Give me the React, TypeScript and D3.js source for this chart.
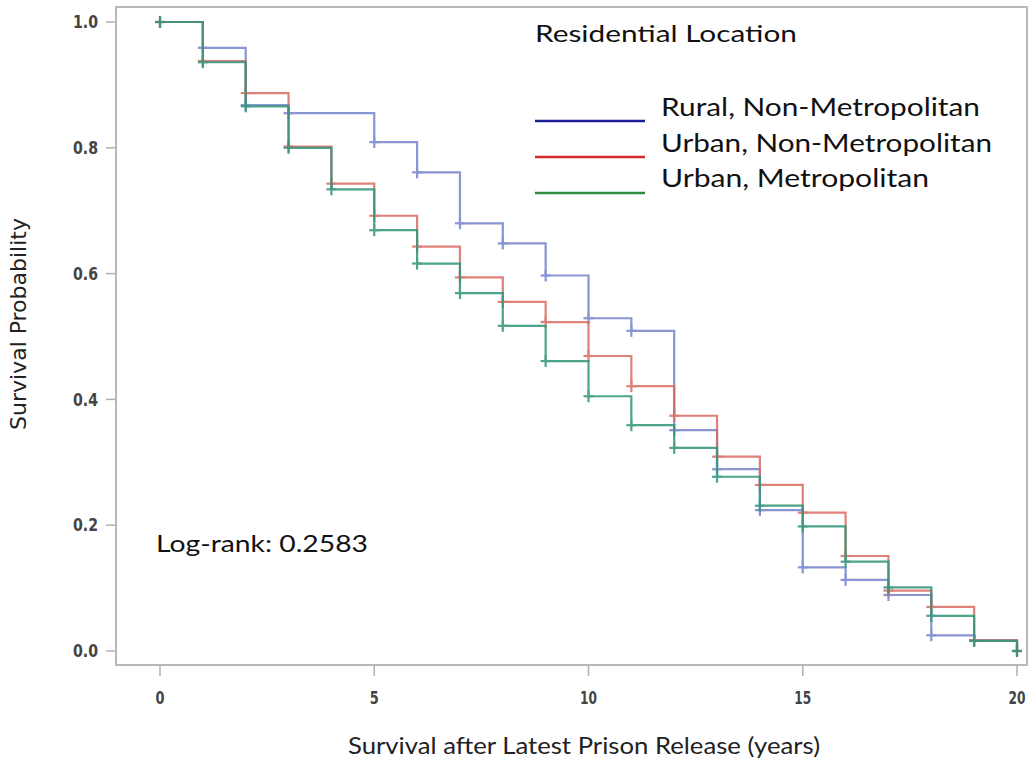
import React from "react";
import * as d3 from "d3";

const years = [0, 1, 2, 3, 4, 5, 6, 7, 8, 9, 10, 11, 12, 13, 14, 15, 16, 17, 18, 19, 20];
const ruralNonMetro = [1.0, 0.959, 0.868, 0.855, 0.855, 0.809, 0.761, 0.68, 0.648, 0.597, 0.529, 0.509, 0.351, 0.289, 0.224, 0.133, 0.113, 0.089, 0.025, 0.017, 0.0];
const urbanNonMetro = [1.0, 0.938, 0.887, 0.802, 0.743, 0.692, 0.643, 0.594, 0.555, 0.523, 0.469, 0.421, 0.374, 0.309, 0.264, 0.22, 0.151, 0.096, 0.07, 0.017, 0.0];
const urbanMetro = [1.0, 0.936, 0.866, 0.8, 0.734, 0.669, 0.616, 0.569, 0.517, 0.461, 0.405, 0.359, 0.323, 0.277, 0.231, 0.198, 0.142, 0.101, 0.056, 0.016, 0.0];
const seriesNames = ["Rural, Non-Metropolitan", "Urban, Non-Metropolitan", "Urban, Metropolitan"];
const xTicks = [0, 5, 10, 15, 20];
const yTicks = [0.0, 0.2, 0.4, 0.6, 0.8, 1.0];

const lineColors = ["#7683cc", "#d96c62", "#2f957a"];
const legendColors = ["#1c1c96", "#d22c2c", "#2e8b40"];
const legendTextLen = [319, 331, 268];

const W = 1029;
const H = 761;
const x = d3.scaleLinear().domain([0, 20]).range([160, 1017]);
const y = d3.scaleLinear().domain([0, 1]).range([651, 22]);

const frame = { left: 116, top: 7, right: 1027, bottom: 665 };
const narrow = "'Liberation Sans Narrow', 'DejaVu Sans Condensed', 'Arial Narrow', sans-serif";
const calibri = "Lato, 'Open Sans', sans-serif";

export default function App() {
  const allSeries = [ruralNonMetro, urbanNonMetro, urbanMetro];
  const line = d3
    .line<number>()
    .x((_, i) => x(years[i]))
    .y((d) => y(d))
    .curve(d3.curveStepAfter);

  return (
    <svg
      width={W}
      height={H}
      style={{ position: "absolute", left: 0, top: 0, background: "#fff" }}
    >
      <rect x={0} y={0} width={W} height={H} fill="#fff" />
      <rect
        x={frame.left}
        y={frame.top}
        width={frame.right - frame.left}
        height={frame.bottom - frame.top}
        fill="#fff"
        stroke="#b8b8b8"
        strokeWidth={2}
      />
      {yTicks.map((t) => (
        <g key={"y" + t}>
          <line x1={106} x2={frame.left} y1={y(t)} y2={y(t)} stroke="#b0b0b0" strokeWidth={1.5} />
          <text
            x={98}
            y={y(t)}
            dy="0.36em"
            textAnchor="end"
            fontFamily={narrow}
            fontWeight="bold"
            fontSize={17}
            fill="#444"
            textLength={25}
            lengthAdjust="spacingAndGlyphs"
          >
            {t.toFixed(1)}
          </text>
        </g>
      ))}
      {xTicks.map((t) => (
        <g key={"x" + t}>
          <line x1={x(t)} x2={x(t)} y1={frame.bottom} y2={676} stroke="#b0b0b0" strokeWidth={1.5} />
          <text
            x={x(t)}
            y={704}
            textAnchor="middle"
            fontFamily={narrow}
            fontWeight="bold"
            fontSize={17}
            fill="#444"
            textLength={t >= 10 ? 17 : 9}
            lengthAdjust="spacingAndGlyphs"
          >
            {t}
          </text>
        </g>
      ))}
      {allSeries.map((s, si) => (
        <g key={"s" + si} opacity={0.85}>
          <path d={line(s) || ""} fill="none" stroke={lineColors[si]} strokeWidth={2.2} />
          {s.map((v, i) =>
            i === 0 || v !== s[i - 1] ? (
              <g key={i} stroke={lineColors[si]} strokeWidth={2.2}>
                <line x1={x(years[i]) - 5} x2={x(years[i]) + 5} y1={y(v)} y2={y(v)} />
                <line x1={x(years[i])} x2={x(years[i])} y1={y(v) - 6} y2={y(v) + 6} />
              </g>
            ) : null
          )}
        </g>
      ))}
      <text x={535} y={42} fontFamily={calibri} fontSize={24} fill="#111" textLength={262} lengthAdjust="spacingAndGlyphs">
        Residential Location
      </text>
      {seriesNames.map((n, i) => (
        <g key={"l" + i}>
          <line x1={535} x2={645} y1={121 + i * 36} y2={121 + i * 36} stroke={legendColors[i]} strokeWidth={2.5} />
          <text
            x={661}
            y={116 + i * 35.5}
            fontFamily={calibri}
            fontSize={25}
            fill="#111"
            textLength={legendTextLen[i]}
            lengthAdjust="spacingAndGlyphs"
          >
            {n}
          </text>
        </g>
      ))}
      <text x={156} y={552} fontFamily={calibri} fontSize={24} fill="#111" textLength={212} lengthAdjust="spacingAndGlyphs">
        Log-rank: 0.2583
      </text>
      <text
        x={584}
        y={754}
        textAnchor="middle"
        fontFamily={calibri}
        fontSize={23}
        fill="#222"
        textLength={472}
        lengthAdjust="spacingAndGlyphs"
      >
        Survival after Latest Prison Release (years)
      </text>
      <text
        transform={`translate(26, 324) rotate(-90)`}
        textAnchor="middle"
        fontFamily={narrow}
        fontSize={21}
        fill="#222"
        textLength={212}
        lengthAdjust="spacingAndGlyphs"
      >
        Survival Probability
      </text>
    </svg>
  );
}
